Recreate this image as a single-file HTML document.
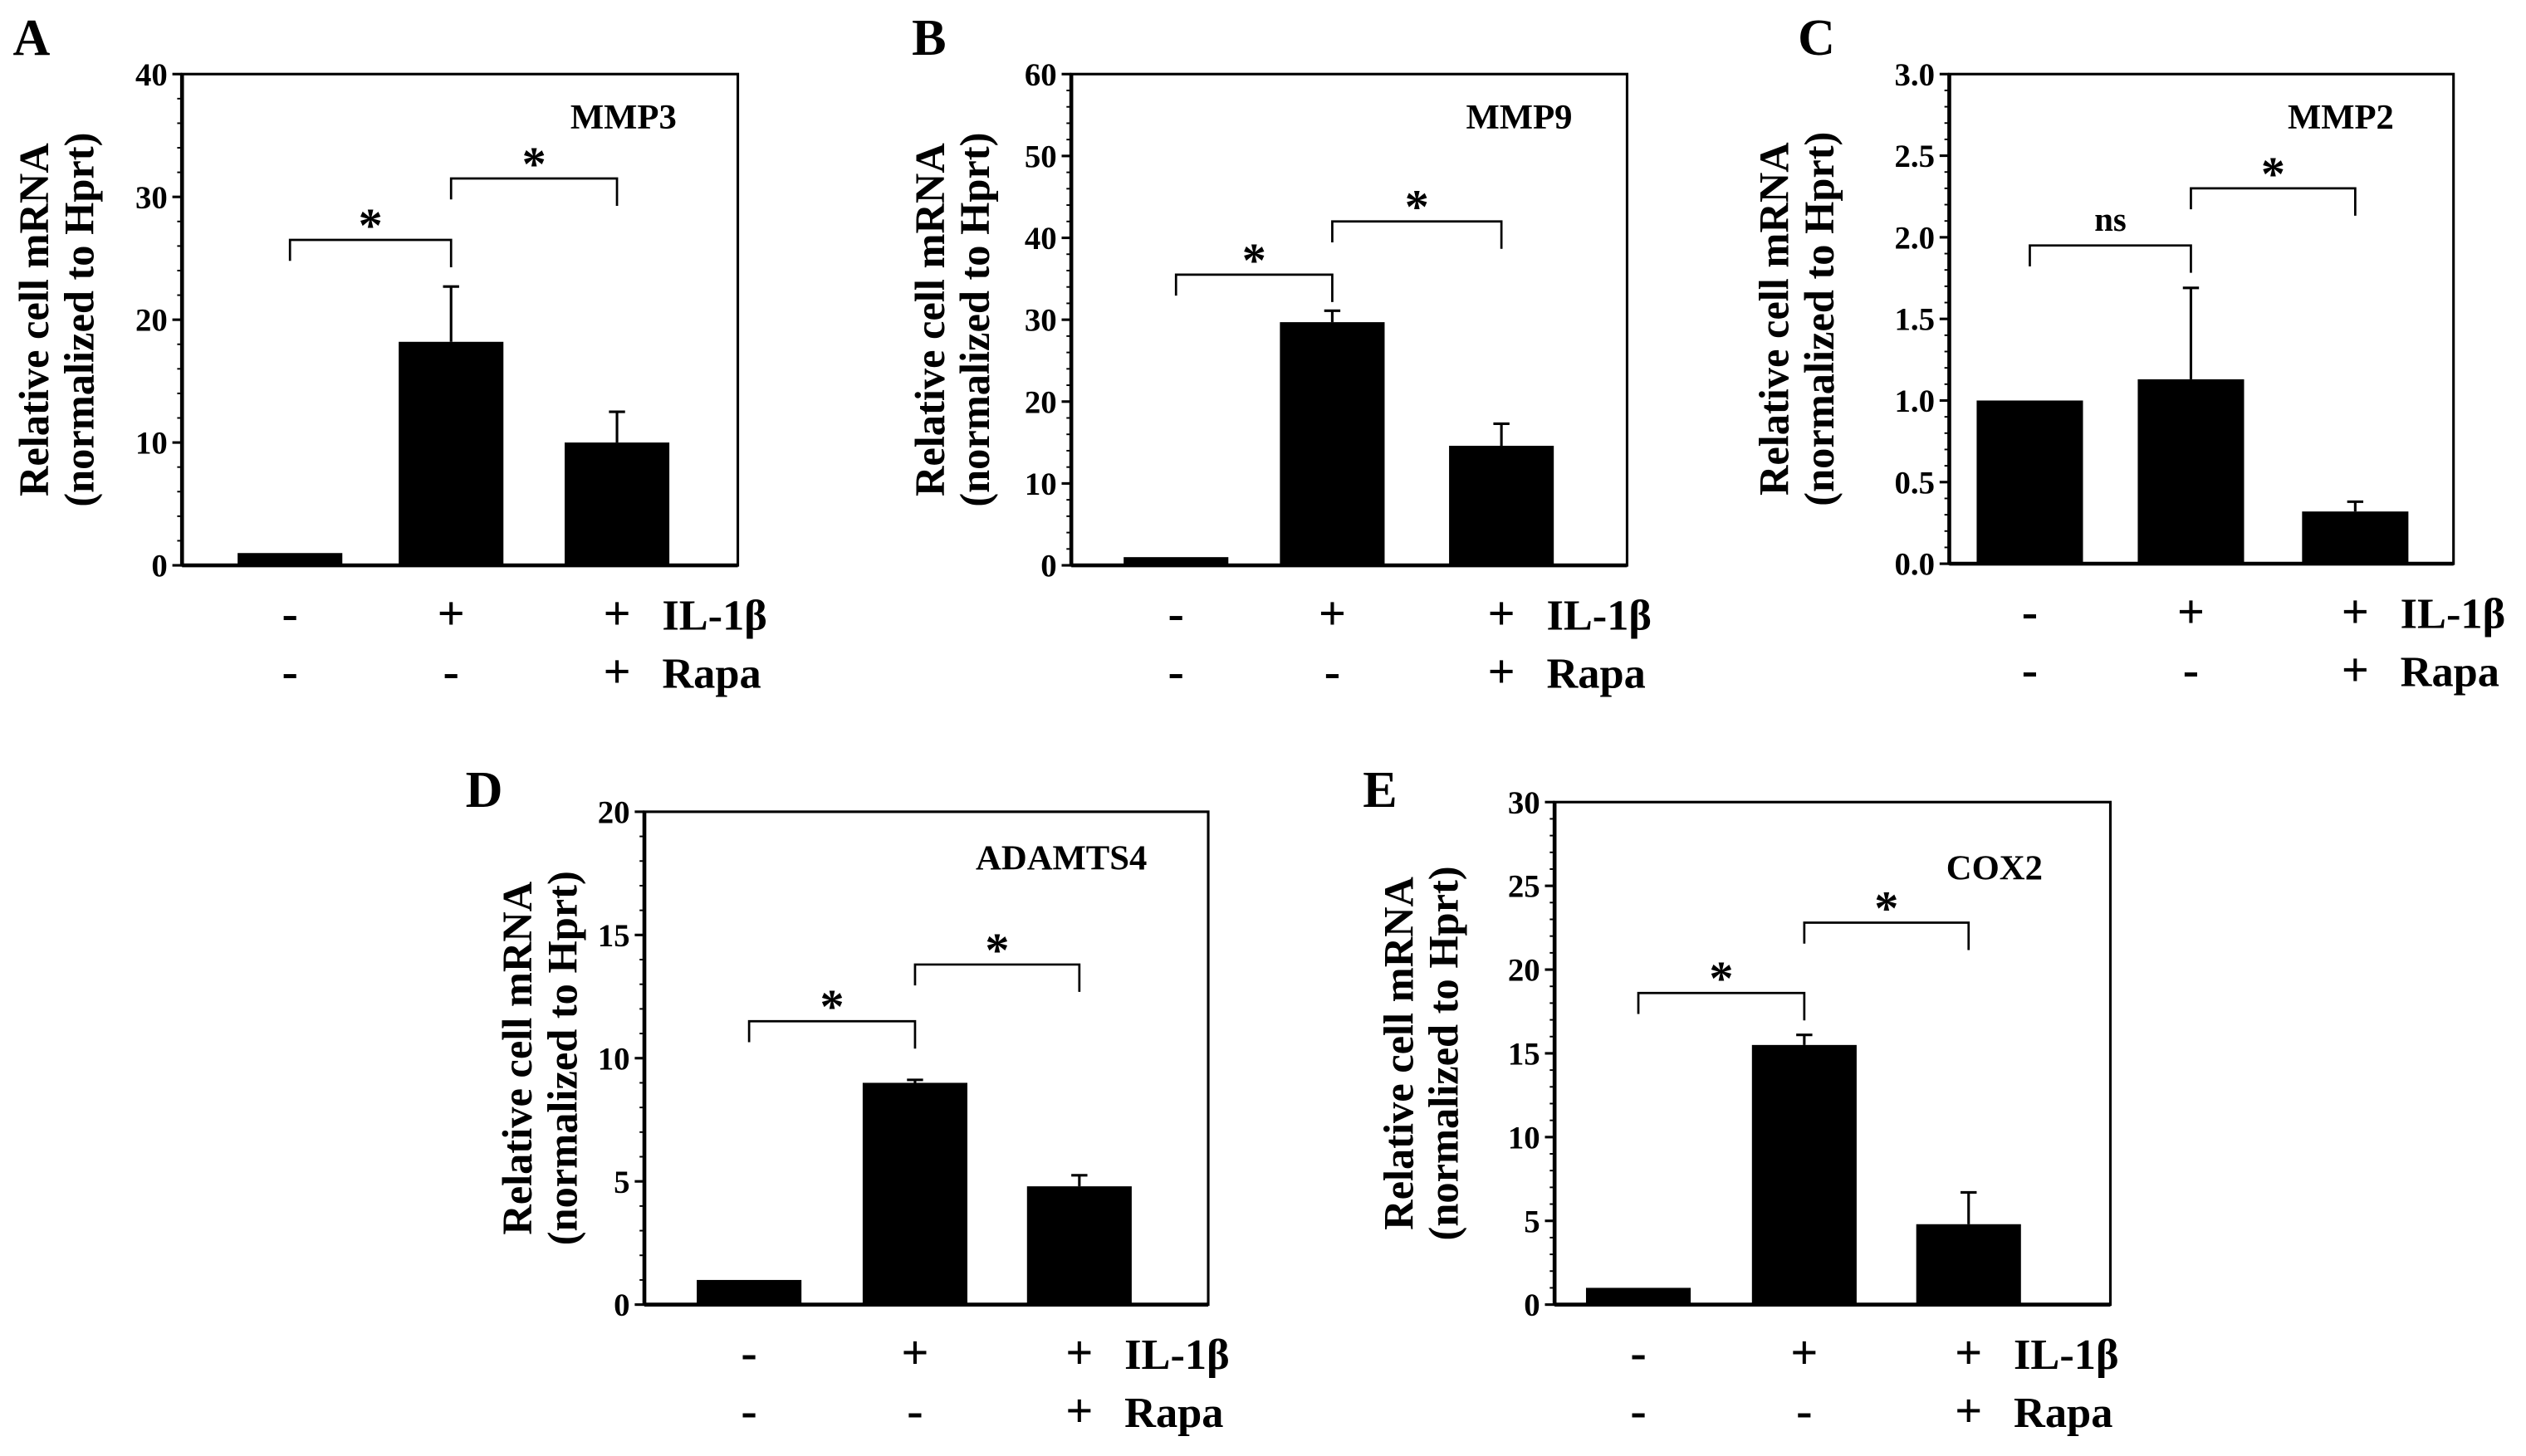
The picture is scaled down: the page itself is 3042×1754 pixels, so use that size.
<!DOCTYPE html>
<html><head><meta charset="utf-8"><style>
html,body{margin:0;padding:0;background:#fff;}
svg{display:block;font-family:"Liberation Serif",serif;font-weight:bold;}
</style></head><body>
<svg id="fig" width="3042" height="1754" viewBox="0 0 1568 904" preserveAspectRatio="none" xmlns="http://www.w3.org/2000/svg"></svg>
<script>
// ---- data ----
const conditions = ["control", "IL-1b", "IL-1b+Rapa"];
const genes = ["MMP3", "MMP9", "MMP2", "ADAMTS4", "COX2"];
const meansA = [1, 18.2, 10];     const errA = [0, 4.5, 2.5];
const meansB = [1, 29.7, 14.6];   const errB = [0, 1.4, 2.7];
const meansC = [1.0, 1.13, 0.32]; const errC = [0, 0.56, 0.06];
const meansD = [1, 9.0, 4.8];     const errD = [0, 0.12, 0.45];
const meansE = [1, 15.5, 4.8];    const errE = [0, 0.6, 1.9];
const ticksA = [0, 10, 20, 30, 40];
const ticksB = [0, 10, 20, 30, 40, 50, 60];
const ticksC = ["0.0", "0.5", "1.0", "1.5", "2.0", "2.5", "3.0"];
const ticksD = [0, 5, 10, 15, 20];
const ticksE = [0, 5, 10, 15, 20, 25, 30];
const sigLabels = ["*", "*", "ns", "*", "*", "*", "*", "*", "*", "*"];
const bracketA = [26.5, 31.5];
const bracketB = [35.5, 42];
const bracketC = [1.95, 2.3];
const bracketD = [11.5, 13.8];
const bracketE = [18.6, 22.8];

const NS = "http://www.w3.org/2000/svg";
const svg = document.getElementById("fig");
function mk(tag, attrs, parent) {
  const e = document.createElementNS(NS, tag);
  for (const k in attrs) e.setAttribute(k, attrs[k]);
  (parent || svg).appendChild(e);
  return e;
}
function txt(s, x, y, size, anchor, parent, name) {
  const t = mk("text", {x: x, y: y, "font-size": size, "text-anchor": anchor || "middle"}, parent);
  t.textContent = s;
  
  
  return t;
}

const panels = [
  {id:"a", letter:"A", lx:8, ly:34, x0:113, x1:458, y0:46, y1:351, max:40, minor:2, ticks:ticksA, means:meansA, err:errA, gene:genes[0], gx:420, gy:80, br:bracketA, cx:[180,280,383], bw:65, sig:[sigLabels[0],sigLabels[1]], ylx:30},
  {id:"b", letter:"B", lx:566, ly:34, x0:665, x1:1010, y0:46, y1:351, max:60, minor:2, ticks:ticksB, means:meansB, err:errB, gene:genes[1], gx:976, gy:80, br:bracketB, cx:[730,827,932], bw:65, sig:[sigLabels[3],sigLabels[4]], ylx:586},
  {id:"c", letter:"C", lx:1116, ly:34, x0:1210, x1:1523, y0:46, y1:350, max:3, minor:0.1, ticks:ticksC, means:meansC, err:errC, gene:genes[2], gx:1486, gy:80, br:bracketC, cx:[1260,1360,1462], bw:66, sig:[sigLabels[2],sigLabels[5]], ylx:1110},
  {id:"d", letter:"D", lx:289, ly:501, x0:400, x1:750, y0:504, y1:810, max:20, minor:1, ticks:ticksD, means:meansD, err:errD, gene:genes[3], gx:712, gy:540, br:bracketD, cx:[465,568,670], bw:65, sig:[sigLabels[6],sigLabels[7]], ylx:330},
  {id:"e", letter:"E", lx:846, ly:501, x0:965, x1:1310, y0:498, y1:810, max:30, minor:1, ticks:ticksE, means:meansE, err:errE, gene:genes[4], gx:1268, gy:546, br:bracketE, cx:[1017,1120,1222], bw:65, sig:[sigLabels[8],sigLabels[9]], ylx:877}
];

panels.forEach(p => {
  const g = mk("g", {});
  
  
  const Y = v => p.y1 - (parseFloat(v) / p.max) * (p.y1 - p.y0);
  txt(p.letter, p.lx, p.ly, 32, "start", g, "panel-letter-" + p.id);
  const yt = mk("g", {transform: "translate(" + p.ylx + "," + ((p.y0 + p.y1) / 2) + ") rotate(-90)"}, g);
  
  
  txt("Relative cell mRNA", 0, 0, 26, "middle", yt, "y-axis-title-line1");
  txt("(normalized to Hprt)", 0, 28, 26, "middle", yt, "y-axis-title-line2");
  const fr = mk("rect", {x:p.x0, y:p.y0, width:p.x1-p.x0, height:p.y1-p.y0, fill:"none", stroke:"#000", "stroke-width":1.6}, g);
  
  
  mk("line", {x1:p.x0, y1:p.y0, x2:p.x0, y2:p.y1, stroke:"#000", "stroke-width":2.4}, g);
  mk("line", {x1:p.x0, y1:p.y1, x2:p.x1, y2:p.y1, stroke:"#000", "stroke-width":2.4}, g);
  for (let v = 0; v <= p.max + 1e-9; v += p.minor) {
    mk("line", {x1:p.x0-3, y1:Y(v), x2:p.x0, y2:Y(v), stroke:"#000", "stroke-width":1}, g);
  }
  p.ticks.forEach(t => {
    const tk = mk("line", {x1:p.x0-6, y1:Y(t), x2:p.x0, y2:Y(t), stroke:"#000", "stroke-width":1.6}, g);
    
    
    txt(String(t), p.x0-9, Y(t)+7, 20, "end", g, "y-tick-label");
  });
  p.means.forEach((m, i) => {
    const b = mk("rect", {x:p.cx[i]-p.bw/2, y:Y(m), width:p.bw, height:p.y1-Y(m), fill:"#000"}, g);
    
    
    if (p.err[i] > 0) {
      const top = Y(m + p.err[i]);
      const eb = mk("path", {d:"M"+p.cx[i]+","+Y(m)+"V"+top+"M"+(p.cx[i]-5)+","+top+"H"+(p.cx[i]+5), stroke:"#000", "stroke-width":1.6, fill:"none"}, g);
      
      
    }
  });
  p.br.forEach((lv, k) => {
    const xa = p.cx[k], xb = p.cx[k+1], y = Y(lv);
    const bk = mk("path", {d:"M"+xa+","+(y+13)+"V"+y+"H"+xb+"V"+(y+17), stroke:"#000", "stroke-width":1.4, fill:"none"}, g);
    
    
    const s = p.sig[k];
    txt(s, (xa+xb)/2, s === "ns" ? y-9 : y+1, s === "ns" ? 21 : 30, "middle", g, "significance-label");
  });
  txt(p.gene, p.gx, p.gy, 22, "end", g, "gene-label");
  const r1 = p.y1 + 40, r2 = p.y1 + 76;
  ["-", "+", "+"].forEach((s, i) => txt(s, p.cx[i], r1, 30, "middle", g, "il1b-sign"));
  ["-", "-", "+"].forEach((s, i) => txt(s, p.cx[i], r2, 30, "middle", g, "rapa-sign"));
  txt("IL-1β", p.cx[2] + 28, r1, 27, "start", g, "il1b-label");
  txt("Rapa", p.cx[2] + 28, r2, 27, "start", g, "rapa-label");
});
</script>
</body></html>
